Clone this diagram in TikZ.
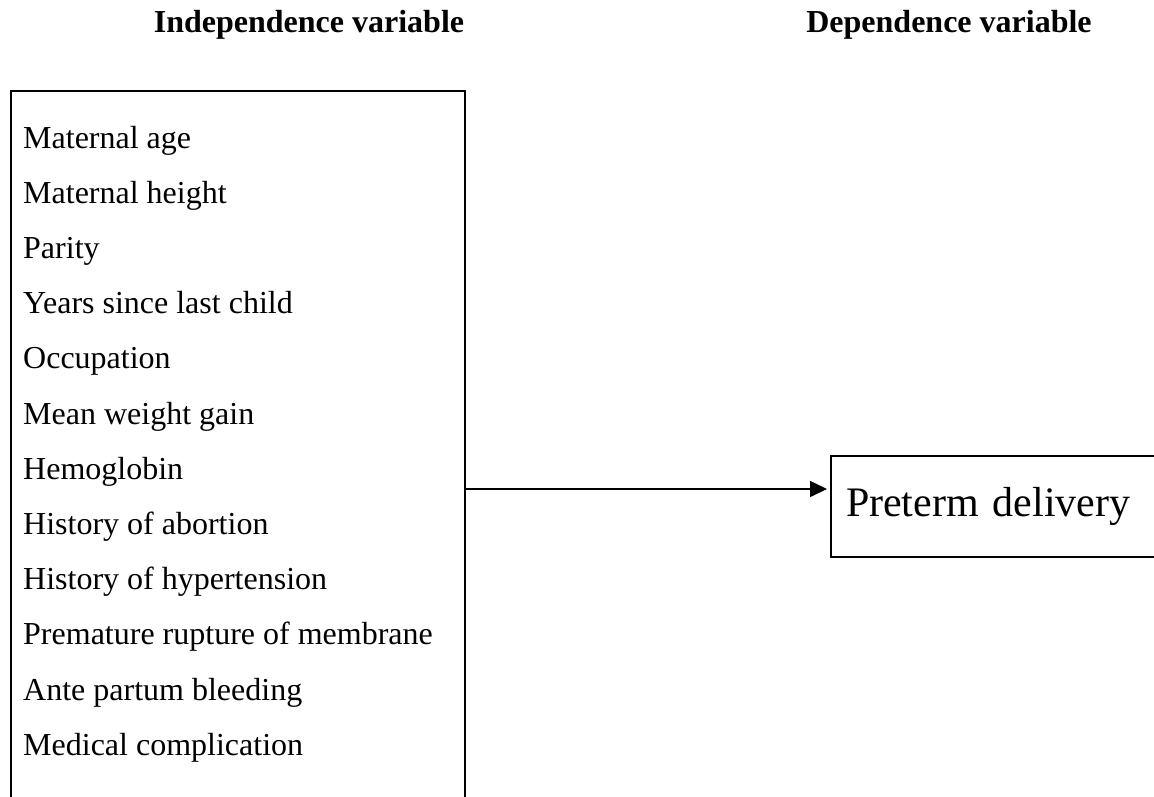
\documentclass[tikz,border=0pt]{standalone}
\usepackage{fontspec}
\setmainfont{Liberation Serif}
\usetikzlibrary{arrows.meta}
\begin{document}
\begin{tikzpicture}[x=1pt,y=-1pt,
  boxline/.style={draw=black, line width=2pt},
  item/.style={anchor=base west, inner sep=0pt, font={\fontsize{32}{38}\selectfont}},
  header/.style={anchor=base, inner sep=0pt, font={\fontsize{32}{38}\selectfont\bfseries}},
  conn/.style={line width=1.6pt, -{Triangle[length=17pt,width=16pt]}}]
\useasboundingbox (0,0) rectangle (1154,796);
\clip (0,0) rectangle (1154,796);
\fill[white] (0,0) rectangle (1154,796);
% headers
\node[header] (hind) at (309,32) {Independence variable};
\node[header] (hdep) at (949,32) {Dependence variable};
% left box (open at the bottom of the page)
\node[boxline, anchor=north west, minimum width=454pt, minimum height=760pt, inner sep=0pt] (indep) at (10,90) {};
% items
\foreach \t [count=\k from 0] in {Maternal age, Maternal height, Parity, Years since last child, Occupation, Mean weight gain, Hemoglobin, History of abortion, History of hypertension, Premature rupture of membrane, Ante partum bleeding, Medical complication}{
  \node[item] (l\k) at (23,{148+55.2*\k}) {\t};
}
% right box
\node[boxline, anchor=north west, minimum width=420pt, minimum height=101pt, inner xsep=15pt, text width=390pt, align=left,
      font={\fontsize{42}{48}\selectfont}] (dep) at (830,455) {Preterm delivery};
% connector
\coordinate (ay) at (0,489);
\draw[conn] (indep.east |- ay) -- ([xshift=-3pt]dep.west |- ay);
\end{tikzpicture}
\end{document}
